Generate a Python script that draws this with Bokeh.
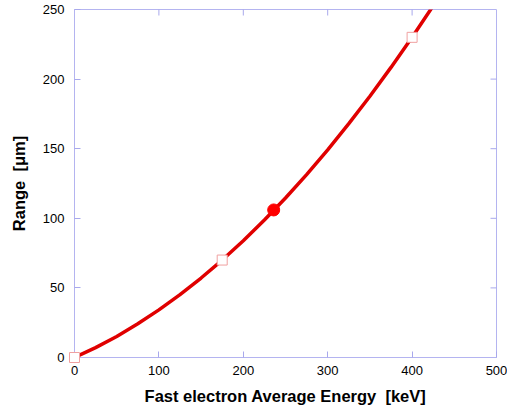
from bokeh.plotting import figure
from bokeh.models import Range1d
from bokeh.embed import file_html
from bokeh.resources import INLINE
import math

# curve
curve_E = [0, 25, 50, 75, 100, 125, 150, 175, 200, 225, 250, 275, 300, 325, 350, 375, 400, 425]
curve_R = [0, 7.1, 15.1, 24.2, 34.2, 45.2, 57.1, 70.0, 83.9, 98.8, 114.6, 131.4, 149.2, 168.0, 187.7, 208.4, 230.1, 252.7]

# open-square data points
sq_E = [0, 175, 400]
sq_R = [0, 70, 230]

# filled point
pt_E = [236]
pt_R = [106]

x_ticks = [0, 100, 200, 300, 400, 500]
y_ticks = [0, 50, 100, 150, 200, 250]
x_min, x_max = 0, 500
y_min, y_max = 0, 250

frame_col = "#b4b4f0"
tick_col = "#a8a8ec"
font = "Liberation Sans"

p = figure(width=507, height=415, output_backend="svg", toolbar_location=None,
           x_range=Range1d(x_min, x_max), y_range=Range1d(y_min, y_max),
           min_border_left=74, min_border_right=11, min_border_top=9, min_border_bottom=58)
p.xgrid.visible = False
p.ygrid.visible = False
p.outline_line_color = frame_col
p.outline_line_width = 1

for ax in p.xaxis + p.yaxis:
    ax.axis_line_color = frame_col
    ax.major_tick_line_color = tick_col
    ax.minor_tick_line_color = None
    ax.major_tick_in = 6
    ax.major_tick_out = 0
    ax.major_label_text_font = font
    ax.major_label_text_font_size = "13px"
    ax.major_label_text_color = "black"
    ax.axis_label_text_font = font
    ax.axis_label_text_font_size = "16.5px"
    ax.axis_label_text_font_style = "bold"
    ax.axis_label_text_color = "black"

p.xaxis.ticker = x_ticks
p.yaxis.ticker = y_ticks
p.xaxis.axis_label = "Fast electron Average Energy \u00a0[keV]"
p.yaxis.axis_label = "Range \u00a0[μm]"
p.xaxis.major_label_standoff = 8
p.yaxis.major_label_standoff = 10
p.xaxis.axis_label_standoff = 9
p.yaxis.axis_label_standoff = 12

# inward ticks on top and right edges (half of each dash is clipped by the frame)
p.scatter(x_ticks[1:-1], [y_max] * (len(x_ticks) - 2), marker="dash", angle=math.pi / 2,
          size=12, line_color=tick_col, line_width=1)
p.scatter([x_max] * (len(y_ticks) - 2), y_ticks[1:-1], marker="dash", angle=0,
          size=12, line_color=tick_col, line_width=1)

p.line(curve_E, curve_R, line_color="#e00000", line_width=3.5)
p.scatter(sq_E, sq_R, marker="square", size=10, fill_color="white",
          line_color="#f0a0a0", line_width=1, level="overlay")
p.scatter(pt_E, pt_R, marker="circle", size=12, fill_color="#ff0000",
          line_color="#ff0000")

open("out.html", "w").write(file_html(p, INLINE))
